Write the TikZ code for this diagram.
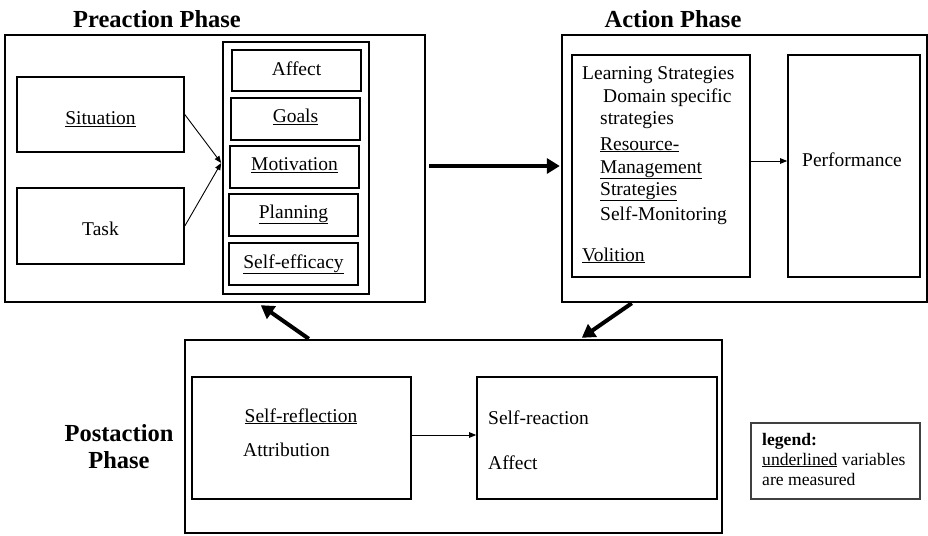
\documentclass[tikz,border=0pt]{standalone}
\usepackage{fontspec}
\setmainfont{Liberation Serif}
\usetikzlibrary{arrows.meta,calc}
\begin{document}
\begin{tikzpicture}[x=1pt,y=-1pt,
  outerbox/.style={draw, line width=2.4pt, inner sep=0pt},
  innerbox/.style={draw, line width=1.6pt, inner sep=0pt},
  txt/.style={inner sep=0pt, font=\fontsize{19.5}{21}\selectfont},
  ttl/.style={inner sep=0pt, font=\fontsize{24.5}{28}\selectfont\bfseries, align=center},
  lgd/.style={inner sep=0pt, font=\fontsize{17.6}{20}\selectfont},
  bigarrow/.style={line width=4pt, -{Triangle[length=13pt,width=15pt]}},
  thinarrow/.style={line width=0.9pt, -{Triangle[length=7pt,width=5.5pt]}}]
\useasboundingbox (0,0) rectangle (928,535);

% Preaction phase
\node[ttl] (preT) at (157,19) {Preaction Phase};
\node[outerbox, minimum width=420pt, minimum height=267pt] (pre) at (215,168.5) {};
\node[innerbox, minimum width=167pt, minimum height=75pt] (sit) at (100.5,114.5) {};
\node[innerbox, minimum width=167pt, minimum height=76pt] (task) at (100.5,226) {};
\node[txt, anchor=base] (sitT) at (100.5,124.5) {\underline{Situation}};
\node[txt, anchor=base] (taskT) at (100.5,235.5) {Task};
\node[innerbox, minimum width=146pt, minimum height=252pt] (col) at (296,168) {};
\node[innerbox, minimum width=129pt, minimum height=41pt] (aff) at (296.5,70.5) {};
\node[innerbox, minimum width=129pt, minimum height=42pt] (goal) at (295.5,119) {};
\node[innerbox, minimum width=129pt, minimum height=42pt] (mot) at (294.5,167) {};
\node[innerbox, minimum width=129pt, minimum height=42pt] (plan) at (293.5,215) {};
\node[innerbox, minimum width=129pt, minimum height=42pt] (self) at (293.5,264) {};
\node[txt, anchor=base] (affT) at (296.5,75) {Affect};
\node[txt, anchor=base] (goalT) at (295.5,122.5) {\underline{Goals}};
\node[txt, anchor=base] (motT) at (294.5,170.5) {\underline{Motivation}};
\node[txt, anchor=base] (planT) at (293.5,218) {\underline{Planning}};
\node[txt, anchor=base] (selfT) at (293.5,268) {\underline{Self-efficacy}};
\coordinate (colin) at ($(col.west)+(-1,-5)$);
\draw[thinarrow] (sit.east) -- (colin);
\draw[thinarrow] (task.east) -- (colin);

% Action phase
\node[ttl] (actT) at (673,19) {Action Phase};
\node[outerbox, minimum width=365pt, minimum height=267pt] (act) at (744.5,168.5) {};
\node[innerbox, minimum width=178pt, minimum height=222pt] (strat) at (661,166) {};
\node[innerbox, minimum width=132pt, minimum height=222pt] (perf) at (854,166) {};
\node[txt, anchor=base west] (s1) at (582,79) {Learning Strategies};
\node[txt, anchor=base west] (s2) at (603,102) {Domain specific};
\node[txt, anchor=base west] (s3) at (600,124) {strategies};
\node[txt, anchor=base west] (s4) at (600,150) {\underline{Resource-}};
\node[txt, anchor=base west] (s5) at (600,173) {\underline{Management}};
\node[txt, anchor=base west] (s6) at (600,195) {\underline{Strategies}};
\node[txt, anchor=base west] (s7) at (600,220) {Self-Monitoring};
\node[txt, anchor=base west] (s8) at (582,261) {\underline{Volition}};
\node[txt, anchor=base] (perfT) at (852,166.5) {Performance};
\draw[thinarrow] (strat.east |- 0,161) -- (perf.west |- 0,161);

\draw[bigarrow] ($(pre.east)+(3,-2.5)$) -- ($(act.west)+(-1,-2.5)$);

% Postaction phase
\node[ttl] (postT) at (119,447) {Postaction\\[-1pt]Phase};
\node[outerbox, minimum width=537pt, minimum height=193pt] (post) at (453.5,436.5) {};
\node[innerbox, minimum width=219pt, minimum height=122pt] (refl) at (301.5,438) {};
\node[innerbox, minimum width=240pt, minimum height=122pt] (react) at (597,438) {};
\node[txt, anchor=base] (reflT) at (301,422) {\underline{Self-reflection}};
\node[txt, anchor=base west] (attT) at (243,456) {Attribution};
\node[txt, anchor=base west] (reT) at (488,424) {Self-reaction};
\node[txt, anchor=base west] (raT) at (488,469) {Affect};
\draw[thinarrow] (refl.east |- 0,435) -- (react.west |- 0,435);

\draw[bigarrow] ($(post.north west)+(125,0)$) -- ($(pre.south west)+(257,2)$);
\draw[bigarrow] ($(act.south west)+(71,0)$) -- ($(post.north west)+(398,-1)$);

% Legend
\node[draw, line width=1.2pt, draw=black!75, minimum width=169pt, minimum height=76pt, inner sep=0pt] (leg) at (835.5,461) {};
\node[lgd, anchor=base west] (l1) at (762,445) {\textbf{legend:}};
\node[lgd, anchor=base west] (l2) at (762,465) {\underline{underlined} variables};
\node[lgd, anchor=base west] (l3) at (762,485) {are measured};
\end{tikzpicture}
\end{document}
